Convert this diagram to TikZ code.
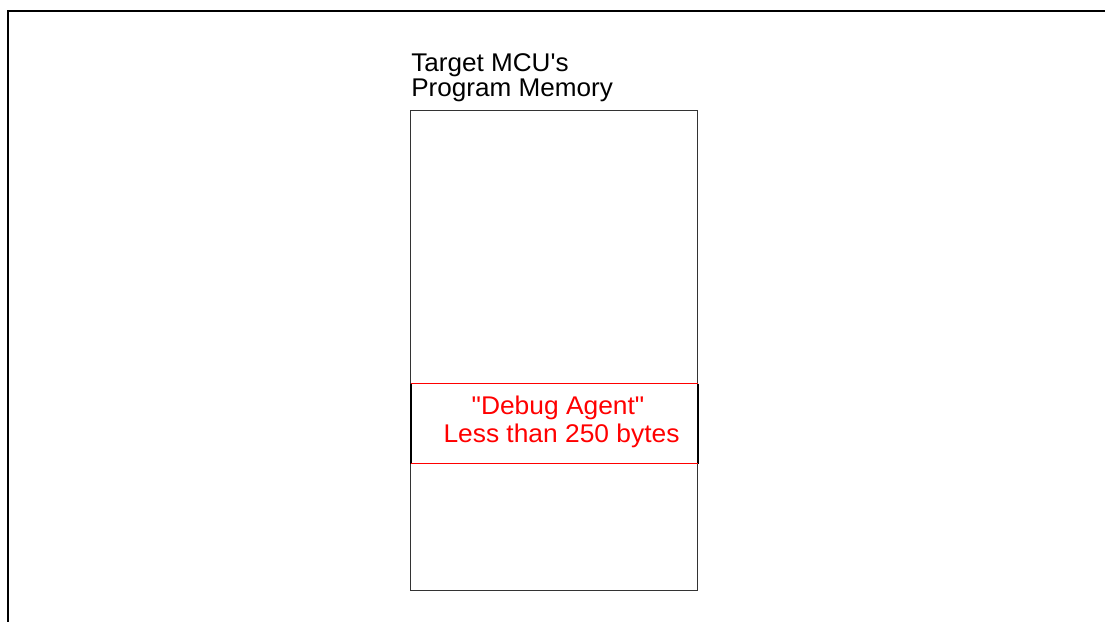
\documentclass[tikz,border=0pt]{standalone}
\usepackage{fontspec}
\setmainfont{Liberation Sans}[Ligatures=TeXOff]
\definecolor{agentred}{RGB}{255,0,0}
\begin{document}
\begin{tikzpicture}[x=0.75pt,y=-0.75pt,
  lbl/.style={inner sep=0pt,font=\fontsize{19.2}{19.2}\selectfont},
  frameline/.style={line width=1.5pt,black},
  membox/.style={draw=black!80,line width=0.8pt},
  agentline/.style={draw=agentred,line width=0.9pt},
  sideline/.style={line width=1.5pt,black}]
\useasboundingbox (0,0) rectangle (1105,621);
\clip (0,0) rectangle (1105,621);
\fill[white] (0,0) rectangle (1105,621);
% outer frame
\draw[frameline] (8,640) -- (8,11) -- (1120,11);
% program memory box
\coordinate (memtl) at (410.5,110.5);
\coordinate (membr) at (697.5,590.5);
\draw[membox] (memtl) rectangle (membr);
% debug agent box
\coordinate (agtl) at (410.5,383.5);
\coordinate (agtr) at (697.5,383.5);
\coordinate (agbl) at (410.5,463.5);
\coordinate (agbr) at (697.5,463.5);
\draw[sideline] (agtl) -- (agbl);
\draw[sideline] (agtr) -- (agbr);
\draw[agentline] (agtl) -- (agtr);
\draw[agentline] (agbl) -- (agbr);
% texts
\node[lbl,anchor=base west,align=left,xscale=1.02] (title) at (411,71) {Target MCU's};
\node[lbl,anchor=base west,align=left,xscale=1.02] (title2) at (411,96) {Program Memory};
\node[lbl,anchor=base,text=agentred,xscale=1.03] (ag1) at (558,414) {"Debug Agent"};
\node[lbl,anchor=base,text=agentred,xscale=1.03] (ag2) at (561.5,442) {Less than 250 bytes};
\end{tikzpicture}
\end{document}
